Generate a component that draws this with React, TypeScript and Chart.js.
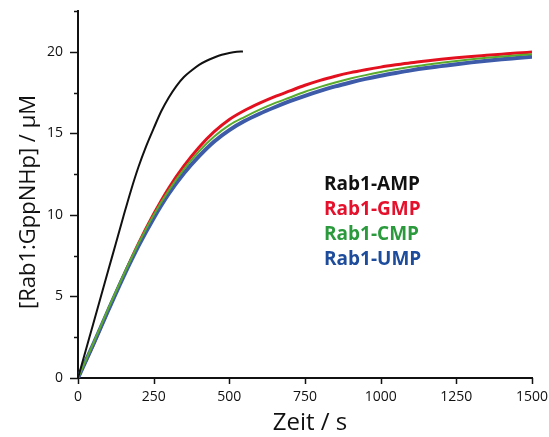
import React, { useEffect, useRef } from "react";
import { Chart, registerables } from "chart.js";

Chart.register(...registerables);

// Time axis (s) for the black trace (Rab1-AMP)
const timeAMP = [0, 25, 50, 75, 100, 125, 150, 175, 200, 225, 250, 275, 300, 325, 350, 375, 400, 425, 450, 475, 500, 525, 545];
const rab1AMP = [0, 1.65, 3.3, 4.95, 6.6, 8.25, 9.9, 11.5, 12.95, 14.2, 15.3, 16.35, 17.2, 17.9, 18.45, 18.85, 19.2, 19.45, 19.65, 19.82, 19.93, 20.0, 20.02];

// Time axis (s) for the coloured traces
const timeNMP = [0, 50, 100, 150, 200, 250, 300, 350, 400, 450, 500, 550, 600, 650, 700, 750, 800, 850, 900, 950, 1000, 1050, 1100, 1150, 1200, 1250, 1300, 1350, 1400, 1450, 1500];
const rab1GMP = [0, 2.0, 4.15, 6.25, 8.25, 10.05, 11.65, 13.0, 14.15, 15.1, 15.85, 16.4, 16.85, 17.25, 17.6, 17.95, 18.25, 18.5, 18.72, 18.9, 19.06, 19.2, 19.33, 19.44, 19.54, 19.63, 19.71, 19.78, 19.85, 19.92, 19.98];
const rab1CMP = [0, 2.1, 4.25, 6.3, 8.25, 10.0, 11.5, 12.8, 13.9, 14.8, 15.5, 16.0, 16.45, 16.85, 17.2, 17.55, 17.85, 18.12, 18.36, 18.57, 18.76, 18.93, 19.08, 19.21, 19.33, 19.44, 19.54, 19.63, 19.71, 19.78, 19.85];
const rab1UMP = [0, 2.05, 4.15, 6.2, 8.1, 9.8, 11.3, 12.55, 13.6, 14.5, 15.2, 15.75, 16.2, 16.6, 16.97, 17.3, 17.6, 17.88, 18.12, 18.34, 18.53, 18.7, 18.86, 19.0, 19.12, 19.24, 19.35, 19.45, 19.54, 19.62, 19.7];

const legendLabels = ["Rab1-AMP", "Rab1-GMP", "Rab1-CMP", "Rab1-UMP"];
const legendColors = ["#111111", "#e5112c", "#2a9a3c", "#1e4c9c"];

const xTitle = "Zeit / s";
const yTitle = "[Rab1:GppNHp] / µM";

const FONT = "'Open Sans', 'DejaVu Sans', sans-serif";

const toPoints = (xs: number[], ys: number[]) => xs.map((x, i) => ({ x, y: ys[i] }));

const zeroPadding = (s: any) => {
  s.paddingTop = 0;
  s.paddingBottom = 0;
  s.paddingLeft = 0;
  s.paddingRight = 0;
};

const decorPlugin = {
  id: "decor",
  afterDraw(chart: any) {
    const { ctx, chartArea } = chart;
    const xs = chart.scales.x;
    const ys = chart.scales.y;
    ctx.save();
    ctx.strokeStyle = "#111";
    ctx.lineWidth = 1.5;
    // y ticks (major/minor)
    ys.ticks.forEach((t: any) => {
      const py = Math.round(ys.getPixelForValue(t.value)) + 0.5;
      const major = Math.abs(t.value % 5) < 1e-6;
      const len = major ? 8 : 4;
      ctx.beginPath();
      ctx.moveTo(chartArea.left - len, py);
      ctx.lineTo(chartArea.left, py);
      ctx.stroke();
    });
    // x ticks
    xs.ticks.forEach((t: any) => {
      const px = Math.round(xs.getPixelForValue(t.value)) + 0.5;
      ctx.beginPath();
      ctx.moveTo(px, chartArea.bottom);
      ctx.lineTo(px, chartArea.bottom + 6);
      ctx.stroke();
    });
    // legend text
    ctx.font = `bold 19px ${FONT}`;
    ctx.textAlign = "left";
    ctx.textBaseline = "alphabetic";
    legendLabels.forEach((lbl, i) => {
      ctx.fillStyle = legendColors[i];
      ctx.fillText(lbl, 324, 190 + i * 25);
    });
    // axis titles
    ctx.fillStyle = "#111";
    ctx.font = `24px ${FONT}`;
    ctx.textAlign = "center";
    ctx.fillText(xTitle, 310, 430);
    ctx.save();
    ctx.translate(35, 202);
    ctx.rotate(-Math.PI / 2);
    ctx.font = `22px ${FONT}`;
    ctx.textAlign = "center";
    ctx.fillText(yTitle, 0, 0);
    ctx.restore();
    ctx.restore();
  },
};

export default function App() {
  const ref = useRef<HTMLCanvasElement | null>(null);
  useEffect(() => {
    if (!ref.current) return;
    const chart = new Chart(ref.current, {
      type: "line",
      data: {
        datasets: [
          { label: legendLabels[0], data: toPoints(timeAMP, rab1AMP), borderColor: "#111111", borderWidth: 2, pointRadius: 0, cubicInterpolationMode: "monotone" },
          { label: legendLabels[2], data: toPoints(timeNMP, rab1CMP), borderColor: "#5aab2c", borderWidth: 2, pointRadius: 0, cubicInterpolationMode: "monotone" },
          { label: legendLabels[3], data: toPoints(timeNMP, rab1UMP), borderColor: "#3d5ba9", borderWidth: 4, pointRadius: 0, cubicInterpolationMode: "monotone" },
          { label: legendLabels[1], data: toPoints(timeNMP, rab1GMP), borderColor: "#e3101f", borderWidth: 3, pointRadius: 0, cubicInterpolationMode: "monotone" },
        ],
      },
      options: {
        responsive: false,
        animation: false,
        layout: { padding: { top: 11, right: 17, left: 0, bottom: 0 } },
        plugins: { legend: { display: false }, tooltip: { enabled: false } },
        scales: {
          x: {
            type: "linear",
            min: 0,
            max: 1500,
            afterFit: (s: any) => { s.height = 59; zeroPadding(s); },
            grid: { display: false, drawTicks: false },
            border: { display: true, color: "#111", width: 2 },
            ticks: { stepSize: 250, padding: 11, color: "#111", font: { family: FONT, size: 14 }, maxRotation: 0, callback: (v: any) => String(v) },
          },
          y: {
            type: "linear",
            min: 0,
            max: 22.5,
            afterFit: (s: any) => { s.width = 78; zeroPadding(s); },
            grid: { display: false, drawTicks: false },
            border: { display: true, color: "#111", width: 2 },
            ticks: {
              stepSize: 2.5,
              padding: 15,
              color: "#111",
              font: { family: FONT, size: 14 },
              callback: (v: any) => (Math.abs(v % 5) < 1e-6 ? String(v) : ""),
            },
          },
        },
      },
      plugins: [decorPlugin],
    });
    return () => chart.destroy();
  }, []);
  return (
    <div style={{ position: "absolute", left: 0, top: 0, width: 549, height: 437, background: "#fff" }}>
      <canvas ref={ref} width={549} height={437} />
    </div>
  );
}
